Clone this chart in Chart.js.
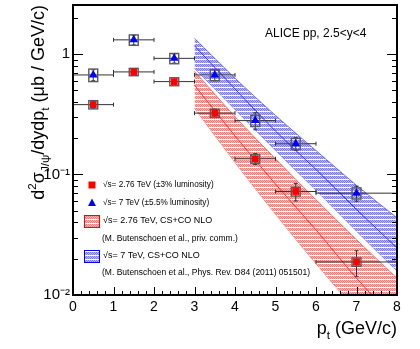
<!DOCTYPE html>
<html lang="en">
<head>
<meta charset="UTF-8">
<title>J/psi cross section vs pt</title>
<script src="https://cdn.jsdelivr.net/npm/chart.js"></script>
<style>
  body { margin: 0; background: #fff; }
  canvas { display: block; }
</style>
</head>
<body>
<canvas id="xsecChart" width="420" height="349"></canvas>
<script>
// pt bins (GeV/c)
var ptCenters = [0.5, 1.5, 2.5, 3.5, 4.5, 5.5, 7];
var ptLow = [0, 1, 2, 3, 4, 5, 6];
var ptHigh = [1, 2, 3, 4, 5, 6, 8];

// sqrt(s) = 2.76 TeV (mub / GeV/c)
var xsec276 = [0.38, 0.71, 0.59, 0.323, 0.135, 0.0723, 0.0188];
var stat276 = [0.025, 0.03, 0.025, 0.025, 0.014, 0.012, 0.0045];
var syst276 = [0.03, 0.05, 0.045, 0.025, 0.011, 0.006, 0.0015];

// sqrt(s) = 7 TeV
var xsec7 = [0.67, 1.31, 0.92, 0.67, 0.28, 0.18, 0.070];
var stat7 = [0.07, 0.12, 0.08, 0.07, 0.045, 0.022, 0.010];
var syst7 = [0.08, 0.13, 0.09, 0.07, 0.03, 0.019, 0.0075];

// CS+CO NLO bands
var nloPt = [3, 4, 5, 6, 7, 8];
var nlo7Up = [1.35, 0.63, 0.309, 0.158, 0.0813, 0.0437];
var nlo7Mid = [1.17, 0.513, 0.229, 0.110, 0.0513, 0.0245];
var nlo7Low = [0.76, 0.347, 0.158, 0.0741, 0.0339, 0.0158];
var nlo276Up = [0.72, 0.302, 0.135, 0.0617, 0.0288, 0.0138];
var nlo276Mid = [0.55, 0.209, 0.0832, 0.0347, 0.0138, 0.00603];
var nlo276Low = [0.355, 0.126, 0.0468, 0.0182, 0.00741, 0.00316];

var yTicks = [0.01, 0.1, 1];
var yTickLabels = ['10⁻²', '10⁻¹', '1'];

var FONT = '"Liberation Sans", Arial, sans-serif';

function pts(xs, ys) {
  return xs.map(function(x, i) { return {x: x, y: ys[i]}; });
}

var canvas = document.getElementById('xsecChart');
var ctx = canvas.getContext('2d');

// dotted fill with thin white horizontal stripes, like the ROOT hatch
function hatch(dark, light) {
  var c = document.createElement('canvas');
  c.width = 2; c.height = 4;
  var g = c.getContext('2d');
  g.fillStyle = light; g.fillRect(0, 0, 2, 3);
  g.fillStyle = dark;
  g.fillRect(0, 0, 1, 1); g.fillRect(1, 1, 1, 1); g.fillRect(0, 2, 1, 1);
  g.fillStyle = '#fff'; g.fillRect(0, 3, 2, 1);
  return ctx.createPattern(c, 'repeat');
}
var redFill = hatch('#f27a7a', '#f9b8b8');
var blueFill = hatch('#7a7af2', '#b8b8f9');

function drawRich(c, parts, x, y, size) {
  parts.forEach(function(p) {
    var fs = p.s === 'n' ? size : size * 0.65;
    c.font = fs + 'px ' + FONT;
    var dy = p.s === 'sup' ? -size * 0.42 : (p.s === 'sub' ? size * 0.28 : 0);
    c.fillText(p.t, x, y + dy);
    x += c.measureText(p.t).width;
  });
  return x;
}
function richWidth(c, parts, size) {
  var w = 0;
  parts.forEach(function(p) {
    c.font = (p.s === 'n' ? size : size * 0.65) + 'px ' + FONT;
    w += c.measureText(p.t).width;
  });
  return w;
}

var rootStyle = {
  id: 'rootStyle',
  beforeDatasetDraw: function(chart, args) {
    var ds = chart.data.datasets[args.index];
    if (!ds.stat) return;
    var x = chart.scales.x, y = chart.scales.y, c = chart.ctx, a = chart.chartArea;
    c.save();
    c.beginPath(); c.rect(a.left, a.top, a.right - a.left, a.bottom - a.top); c.clip();
    for (var i = 0; i < ds.data.length; i++) {
      var v = ds.data[i].y;
      var px = x.getPixelForValue(ds.data[i].x);
      var py = y.getPixelForValue(v);
      // bin width
      var xl = x.getPixelForValue(ptLow[i]), xh = x.getPixelForValue(ptHigh[i]);
      c.strokeStyle = '#333'; c.lineWidth = 1;
      c.beginPath();
      c.moveTo(xl, py); c.lineTo(xh, py);
      c.moveTo(xl, py - 2); c.lineTo(xl, py + 2);
      c.moveTo(xh, py - 2); c.lineTo(xh, py + 2);
      // statistical
      var sy0 = y.getPixelForValue(v + ds.stat[i]), sy1 = y.getPixelForValue(v - ds.stat[i]);
      c.moveTo(px, sy0); c.lineTo(px, sy1);
      c.moveTo(px - 2, sy0); c.lineTo(px + 2, sy0);
      c.moveTo(px - 2, sy1); c.lineTo(px + 2, sy1);
      c.stroke();
      // systematic box
      var bx0 = x.getPixelForValue(ds.data[i].x - 0.11), bx1 = x.getPixelForValue(ds.data[i].x + 0.11);
      var by0 = y.getPixelForValue(v + ds.syst[i]), by1 = y.getPixelForValue(v - ds.syst[i]);
      c.strokeStyle = '#5a5a5a'; c.lineWidth = 1.4;
      c.strokeRect(bx0, by0, bx1 - bx0, by1 - by0);
    }
    c.restore();
  },
  afterDraw: function(chart) {
    var c = chart.ctx, a = chart.chartArea, x = chart.scales.x, y = chart.scales.y;
    c.save();
    // frame
    c.strokeStyle = '#000'; c.lineWidth = 2;
    c.strokeRect(a.left, a.top, a.right - a.left, a.bottom - a.top);
    // ticks, pointing in
    c.lineWidth = 1;
    c.beginPath();
    for (var k = 0; k <= 40; k++) {
      var xv = k * 0.2;
      var xp = Math.round(x.getPixelForValue(xv)) + 0.5;
      var len = (k % 5 === 0) ? 8 : 4;
      c.moveTo(xp, a.bottom); c.lineTo(xp, a.bottom - len);
    }
    [0.01, 0.1, 1].forEach(function(dec) {
      for (var m = 1; m <= 9; m++) {
        var yv = dec * m;
        if (yv > y.max) continue;
        var yp = Math.round(y.getPixelForValue(yv)) + 0.5;
        var ln = m === 1 ? 10 : 5;
        c.moveTo(a.left, yp); c.lineTo(a.left + ln, yp);
        c.moveTo(a.right, yp); c.lineTo(a.right - ln, yp);
      }
    });
    c.stroke();

    c.fillStyle = '#000';
    c.textBaseline = 'alphabetic';
    // x title
    var xt = [{t: 'p', s: 'n'}, {t: 't', s: 'sub'}, {t: ' (GeV/c)', s: 'n'}];
    var xw = richWidth(c, xt, 18);
    drawRich(c, xt, a.right - xw, 334, 18);
    // y title
    var yt = [{t: 'd', s: 'n'}, {t: '2', s: 'sup'}, {t: 'σ', s: 'n'}, {t: 'J/ψ', s: 'sub'},
              {t: '/dydp', s: 'n'}, {t: 't', s: 'sub'}, {t: ' (μb / GeV/c)', s: 'n'}];
    var yw = richWidth(c, yt, 18);
    c.save();
    c.translate(44, a.top + yw);
    c.rotate(-Math.PI / 2);
    drawRich(c, yt, 0, 0, 18);
    c.restore();

    // header
    c.font = '12px ' + FONT;
    c.fillText('ALICE pp, 2.5<y<4', 265, 37);

    // legend
    c.textBaseline = 'middle';
    c.fillStyle = '#ff0000';
    c.fillRect(88.5, 181.5, 7, 7);
    c.fillStyle = '#0000ff';
    c.beginPath(); c.moveTo(92, 198.5); c.lineTo(96, 206); c.lineTo(88, 206); c.closePath(); c.fill();
    c.fillStyle = redFill; c.fillRect(84, 215, 15, 12);
    c.strokeStyle = '#ff0000'; c.strokeRect(84.5, 215.5, 15, 12);
    c.fillStyle = blueFill; c.fillRect(84, 250, 15, 12);
    c.strokeStyle = '#0000ff'; c.strokeRect(84.5, 250.5, 15, 12);

    c.fillStyle = '#000';
    c.font = '8.2px ' + FONT;
    c.fillText('√s= 2.76 TeV (±3% luminosity)', 103, 185);
    c.fillText('√s= 7 TeV (±5.5% luminosity)', 103, 203);
    c.font = '9px ' + FONT;
    c.fillText('√s= 2.76 TeV, CS+CO NLO', 103, 221);
    c.fillText('√s= 7 TeV, CS+CO NLO', 103, 256);
    c.font = '8.5px ' + FONT;
    c.fillText('(M. Butenschoen et al., priv. comm.)', 102, 238.5);
    c.fillText('(M. Butenschoen et al., Phys. Rev. D84 (2011) 051501)', 102, 273);
    c.restore();
  }
};

var bandLine = function(data, color, width, fill, bg, order) {
  return {
    type: 'line', data: data, borderColor: color, borderWidth: width, pointRadius: 0,
    cubicInterpolationMode: 'monotone', fill: fill, backgroundColor: bg, order: order
  };
};

new Chart(ctx, {
  type: 'scatter',
  data: {
    datasets: [
      bandLine(pts(nloPt, nlo7Up), 'rgba(40,40,255,0.6)', 1, 1, blueFill, 5),
      bandLine(pts(nloPt, nlo7Low), 'rgba(40,40,255,0.6)', 1, false, 'transparent', 5),
      bandLine(pts(nloPt, nlo7Mid), '#3030ff', 1, false, 'transparent', 4),
      bandLine(pts(nloPt, nlo276Up), 'rgba(255,40,40,0.6)', 1, 4, redFill, 5),
      bandLine(pts(nloPt, nlo276Low), 'rgba(255,40,40,0.6)', 1, false, 'transparent', 5),
      bandLine(pts(nloPt, nlo276Mid), '#ff3030', 1, false, 'transparent', 4),
      {
        label: '2.76 TeV', data: pts(ptCenters, xsec276), stat: stat276, syst: syst276,
        pointStyle: 'rect', pointRadius: 4.8, backgroundColor: '#ff0000', borderColor: '#ff0000',
        borderWidth: 0, order: 1
      },
      {
        label: '7 TeV', data: pts(ptCenters, xsec7), stat: stat7, syst: syst7,
        pointStyle: 'triangle', pointRadius: 5, backgroundColor: '#0000ff', borderColor: '#0000ff',
        borderWidth: 0, order: 0
      }
    ]
  },
  options: {
    responsive: false,
    animation: false,
    devicePixelRatio: 1,
    layout: { padding: { left: 0, right: 23, top: 5, bottom: 0 } },
    plugins: { legend: { display: false }, tooltip: { enabled: false } },
    scales: {
      x: {
        type: 'linear', min: 0, max: 8,
        grid: { display: false, drawTicks: false }, border: { display: false },
        ticks: { stepSize: 1, padding: 4, color: '#000', font: { family: FONT, size: 14 } },
        afterFit: function(s) { s.height = 54; s.paddingLeft = 0; s.paddingRight = 0; }
      },
      y: {
        type: 'logarithmic', min: 0.01, max: 2.55,
        grid: { display: false, drawTicks: false }, border: { display: false },
        ticks: {
          autoSkip: false, padding: 3, color: '#000', font: { family: FONT, size: 15 },
          callback: function(v) {
            var i = yTicks.indexOf(v);
            return i >= 0 ? yTickLabels[i] : '';
          }
        },
        afterBuildTicks: function(s) { s.ticks = yTicks.map(function(v) { return {value: v}; }); },
        afterFit: function(s) { s.width = 73; s.paddingTop = 0; s.paddingBottom = 0; }
      }
    }
  },
  plugins: [rootStyle]
});
</script>
</body>
</html>
